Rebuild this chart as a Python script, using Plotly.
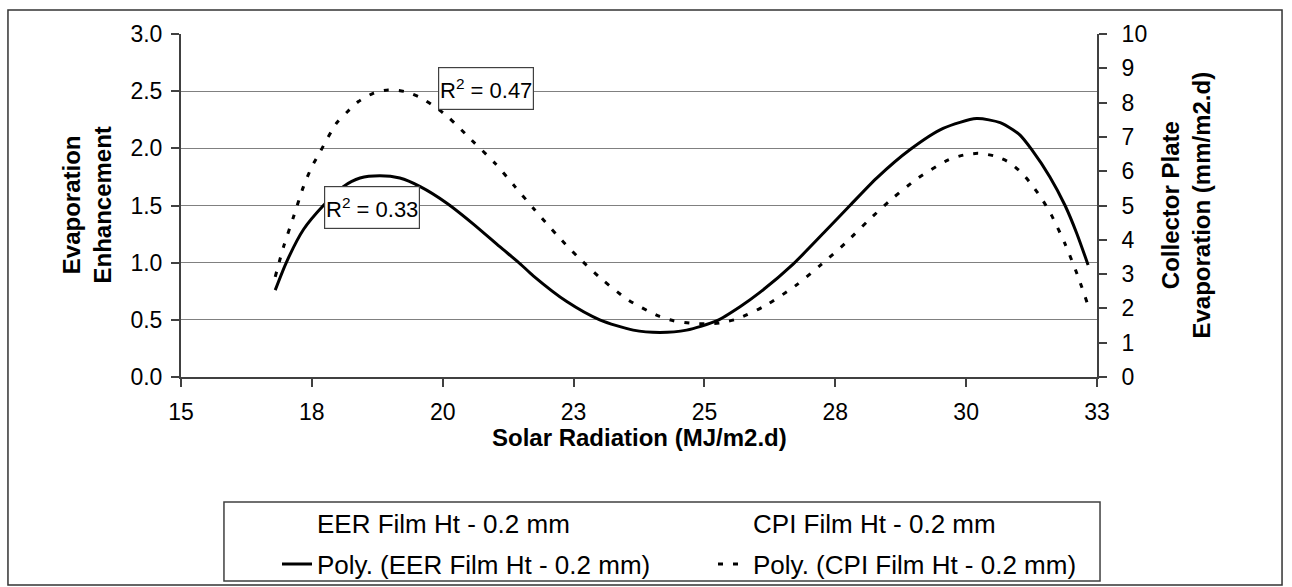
import plotly.graph_objects as go

# ---- data ----
x_ticks = [15, 17.5, 20, 22.5, 25, 27.5, 30, 32.5]
x_tick_labels = ["15", "18", "20", "23", "25", "28", "30", "33"]

eer_x = [16.80, 17.02, 17.34, 17.72, 18.10, 18.42, 18.80, 19.18, 19.57, 20.08,
         20.58, 21.09, 21.48, 21.73, 22.37, 23.00, 23.64, 24.15, 24.66, 25.23,
         25.68, 26.06, 26.70, 27.34, 27.78, 28.29, 28.93, 29.56, 30.20, 30.65,
         30.90, 31.03, 31.25, 31.60, 31.89, 32.11, 32.33]
eer_poly = [0.76, 1.01, 1.29, 1.50, 1.665, 1.74, 1.76, 1.74, 1.665, 1.52,
            1.34, 1.14, 0.99, 0.885, 0.66, 0.50, 0.41, 0.39, 0.41, 0.49,
            0.615, 0.74, 0.99, 1.29, 1.50, 1.74, 1.99, 2.175, 2.26, 2.225,
            2.16, 2.115, 1.99, 1.75, 1.50, 1.26, 0.98]

cpi_x = [16.80, 16.96, 17.15, 17.34, 17.50, 17.66, 17.97, 18.17, 18.39, 18.67,
         18.96, 19.28, 19.57, 19.85, 20.11, 20.55, 21.00, 21.38, 21.76, 22.18,
         22.59, 23.04, 23.55, 24.12, 24.41, 24.72, 25.01, 25.30, 25.62, 26.16,
         26.73, 27.24, 27.69, 28.13, 28.58, 29.09, 29.66, 29.95, 30.23, 30.55,
         30.83, 31.08, 31.28, 31.46, 31.63, 31.89, 32.12, 32.32]
cpi_poly = [2.92, 3.80, 4.67, 5.55, 6.13, 6.57, 7.40, 7.72, 8.03, 8.27,
            8.37, 8.32, 8.15, 7.88, 7.57, 6.91, 6.23, 5.55, 4.87, 4.14,
            3.49, 2.85, 2.24, 1.78, 1.64, 1.57, 1.55, 1.58, 1.69, 2.08,
            2.65, 3.29, 3.90, 4.56, 5.19, 5.81, 6.33, 6.47, 6.52, 6.44,
            6.25, 5.92, 5.55, 5.16, 4.72, 3.88, 3.00, 2.13]

series_names = ["EER Film Ht - 0.2 mm", "CPI Film Ht - 0.2 mm",
                "Poly. (EER Film Ht - 0.2 mm)", "Poly. (CPI Film Ht - 0.2 mm)"]
r2_labels = ["R<sup>2</sup> = 0.33", "R<sup>2</sup> = 0.47"]
r2_pos_x = [18.65, 20.82]
r2_pos_y = [1.48, 2.52]

FONT = "Liberation Sans, Arial, sans-serif"
AX = "#404040"

fig = go.Figure()

# raw data series (markers hidden in the original)
fig.add_trace(go.Scatter(x=[None], y=[None], mode="markers", name=series_names[0],
                         marker=dict(color="rgba(0,0,0,0)"), legend="legend"))
fig.add_trace(go.Scatter(x=[None], y=[None], mode="markers", name=series_names[1],
                         marker=dict(color="rgba(0,0,0,0)"), yaxis="y2", legend="legend2"))
# polynomial trendlines
fig.add_trace(go.Scatter(x=eer_x, y=eer_poly, mode="lines", name=series_names[2],
                         line=dict(color="black", width=3, shape="spline", smoothing=0.7),
                         legend="legend3"))
fig.add_trace(go.Scatter(x=cpi_x, y=cpi_poly, mode="lines", name=series_names[3],
                         line=dict(color="black", width=3, dash="5px,10px",
                                   shape="spline", smoothing=0.7),
                         yaxis="y2", legend="legend4"))

for t, xx, yy in zip(r2_labels, r2_pos_x, r2_pos_y):
    fig.add_annotation(x=xx, y=yy, xref="x", yref="y", text=t, showarrow=False,
                       font=dict(family=FONT, size=22, color="black"),
                       width=94, height=41, borderpad=0,
                       bgcolor="white", bordercolor=AX, borderwidth=1.2)

# axis titles
fig.add_annotation(x=-0.1037, y=0.5, xref="paper", yref="paper",
                   xanchor="center", yanchor="middle",
                   text="<b>Evaporation<br>Enhancement</b>", textangle=-90, showarrow=False,
                   font=dict(family=FONT, size=24, color="black"))
fig.add_annotation(x=1.0961, y=0.5, xref="paper", yref="paper",
                   xanchor="center", yanchor="middle",
                   text="<b>Collector Plate<br>Evaporation (mm/m2.d)</b>", textangle=-90,
                   showarrow=False, font=dict(family=FONT, size=24, color="black"))
fig.add_annotation(x=0.5, y=-0.1778, xref="paper", yref="paper",
                   xanchor="center", yanchor="middle",
                   text="<b>Solar Radiation (MJ/m2.d)</b>", showarrow=False,
                   font=dict(family=FONT, size=24, color="black"))

# legend box and outer chart border
fig.add_shape(type="rect", xref="paper", yref="paper", x0=0.0469, x1=1.0033,
              y0=-0.5948, y1=-0.3644, line=dict(color=AX, width=1.5), layer="below")
fig.add_shape(type="rect", xref="paper", yref="paper", x0=-0.1889, x1=1.2020,
              y0=-0.6064, y1=1.0700, line=dict(color="#333333", width=1.5), layer="below")

leg_font = dict(family=FONT, size=26, color="black")
legend_common = dict(font=leg_font, bgcolor="rgba(0,0,0,0)", borderwidth=0,
                     xanchor="left", yanchor="middle", orientation="v")

fig.update_layout(
    width=1292, height=587,
    margin=dict(l=181, r=195, t=34, b=210, autoexpand=False),
    paper_bgcolor="white", plot_bgcolor="white",
    font=dict(family=FONT, size=23, color="black"),
    showlegend=True,
    legend=dict(x=0.1048, y=-0.4257, **legend_common),
    legend2=dict(x=0.5808, y=-0.4257, **legend_common),
    legend3=dict(x=0.1048, y=-0.5452, **legend_common),
    legend4=dict(x=0.5808, y=-0.5452, **legend_common),
    xaxis=dict(range=[15, 32.5], tickvals=x_ticks, ticktext=x_tick_labels,
               showgrid=False, zeroline=False, showline=True, linecolor=AX, linewidth=2,
               ticks="outside", ticklen=8, tickcolor=AX, tickwidth=2,
               ticklabelstandoff=5,
               tickfont=dict(family=FONT, size=23, color="black")),
    yaxis=dict(range=[0, 3], dtick=0.5, tickformat=".1f",
               showgrid=True, gridcolor="#808080", gridwidth=1.2, zeroline=False,
               showline=True, linecolor=AX, linewidth=2,
               ticks="outside", ticklen=8, tickcolor=AX, tickwidth=2,
               ticklabelstandoff=4,
               tickfont=dict(family=FONT, size=23, color="black")),
    yaxis2=dict(range=[0, 10], dtick=1, overlaying="y", side="right",
                showgrid=False, zeroline=False, showline=True, linecolor=AX, linewidth=2,
                ticks="outside", ticklen=8, tickcolor=AX, tickwidth=2,
                ticklabelstandoff=10,
                tickfont=dict(family=FONT, size=23, color="black")),
)

fig.write_html("out.html")
